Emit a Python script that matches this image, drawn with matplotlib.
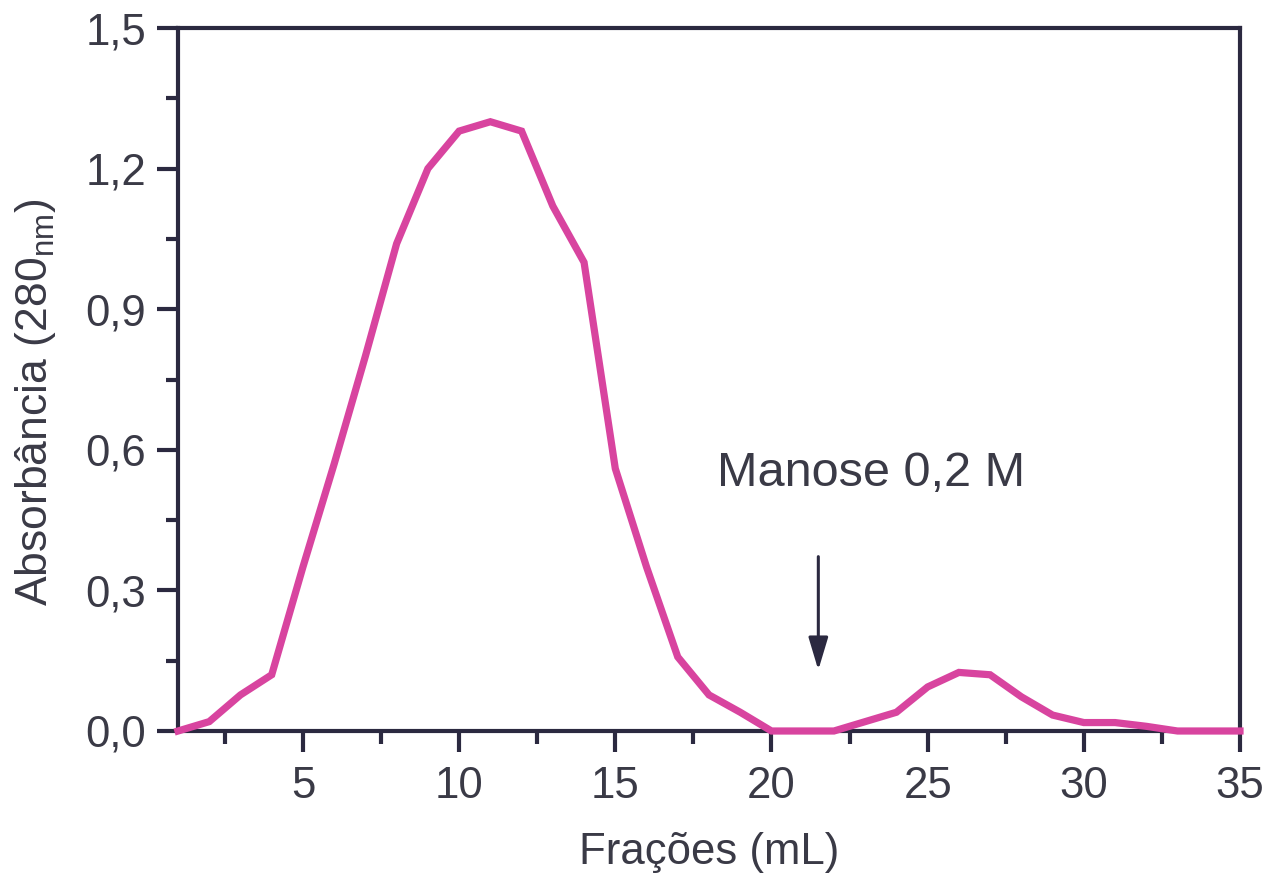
import matplotlib
matplotlib.use("Agg")
import matplotlib.pyplot as plt
from matplotlib.ticker import MultipleLocator, FuncFormatter

fractions = [1, 2, 3, 4, 5, 6, 7, 8, 9, 10, 11, 12, 13, 14, 15, 16, 17, 18,
             19, 20, 21, 22, 23, 24, 25, 26, 27, 28, 29, 30, 31, 32, 33, 34, 35]
absorbance = [0.0, 0.02, 0.077, 0.12, 0.35, 0.57, 0.80, 1.04, 1.20, 1.28, 1.30,
              1.28, 1.12, 1.00, 0.56, 0.35, 0.158, 0.077, 0.04, 0.0, 0.0, 0.0,
              0.02, 0.04, 0.094, 0.125, 0.12, 0.073, 0.034, 0.018, 0.018, 0.01,
              0.0, 0.0, 0.0]
annotation_text = "Manose 0,2 M"
annotation_x = 21.5

plt.rcParams['font.family'] = ['Liberation Sans', 'DejaVu Sans']
plt.rcParams['mathtext.fontset'] = 'custom'
plt.rcParams['mathtext.rm'] = 'Liberation Sans'
plt.rcParams['mathtext.it'] = 'Liberation Sans:italic'

ink = '#2b2940'
txt = '#3a3a46'

fig = plt.figure(figsize=(12.7, 8.89), dpi=100)
ax = fig.add_axes([178/1270, 1 - 731/889, (1240-178)/1270, (731-28)/889])

ax.plot(fractions, absorbance, color='#d8449f', lw=5.2, solid_joinstyle='miter',
        clip_on=False, zorder=3)

ax.set_xlim(1, 35)
ax.set_ylim(0, 1.5)
ax.xaxis.set_major_locator(MultipleLocator(5))
ax.xaxis.set_minor_locator(MultipleLocator(2.5))
ax.yaxis.set_major_locator(MultipleLocator(0.3))
ax.yaxis.set_minor_locator(MultipleLocator(0.15))
ax.xaxis.set_major_formatter(FuncFormatter(lambda v, p: f"{v:g}"))
ax.yaxis.set_major_formatter(FuncFormatter(lambda v, p: f"{v:.1f}".replace('.', ',')))

for s in ax.spines.values():
    s.set_color(ink)
    s.set_linewidth(3)

ax.tick_params(axis='both', which='major', direction='out', length=15, width=3,
               color=ink, labelcolor=txt, labelsize=31.5)
ax.tick_params(axis='both', which='minor', direction='out', length=9, width=3,
               color=ink)
ax.tick_params(axis='x', which='major', pad=10)
ax.tick_params(axis='y', which='major', pad=8)

ax.set_xlabel('Frações (mL)', fontsize=31.5, color=txt, labelpad=18)
ax.set_ylabel('Absorbância (280$_{\\mathrm{nm}}$)', fontsize=32, color=txt)
ax.yaxis.set_label_coords(-0.113, 0.468)

ax.annotate('', xy=(annotation_x, 0.13), xytext=(annotation_x, 0.372),
            arrowprops=dict(arrowstyle='-|>,head_length=2.0,head_width=0.6',
                            color=ink, lw=2.2, shrinkA=0, shrinkB=0))
ax.text(23.2, 0.55, annotation_text, fontsize=35, color=txt, ha='center', va='center')

fig.savefig('out.png', dpi=100, facecolor='white')
